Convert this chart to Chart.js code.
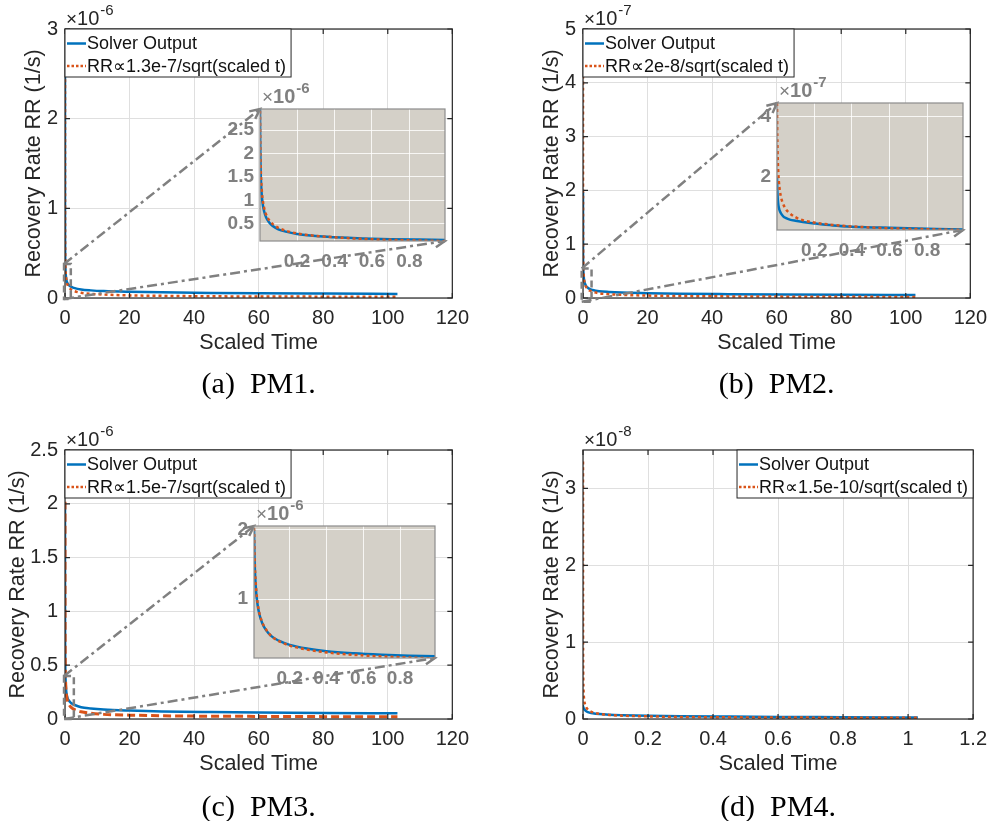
<!DOCTYPE html>
<html>
<head>
<meta charset="utf-8">
<script src="https://cdn.jsdelivr.net/npm/chart.js@4.4.1/dist/chart.umd.min.js"></script>
<style>
  body { margin: 0; background: #fff; width: 995px; height: 827px; position: relative; overflow: hidden; }
  canvas { position: absolute; }
</style>
</head>
<body>
<canvas id="mainA" width="477" height="400" style="left:0px;top:0px"></canvas>
<canvas id="mainB" width="477" height="400" style="left:518px;top:0px"></canvas>
<canvas id="mainC" width="477" height="400" style="left:0px;top:421px"></canvas>
<canvas id="mainD" width="477" height="400" style="left:518px;top:421px"></canvas>
<canvas id="insetA"></canvas>
<canvas id="insetB"></canvas>
<canvas id="insetC"></canvas>
<script>
// ---- data (values in units of the axis exponent) ----
const tABC = [0.002, 0.003, 0.005, 0.008, 0.012, 0.018, 0.025, 0.035, 0.05, 0.07, 0.1, 0.14, 0.2, 0.3, 0.4, 0.55, 0.7, 0.85, 1, 1.5, 2, 3, 5, 8, 12, 20, 30, 45, 60, 80, 103];
const solverA = [2.95, 2.3, 1.72, 1.33, 1.08, 0.88, 0.75, 0.63, 0.53, 0.45, 0.38, 0.33, 0.28, 0.235, 0.21, 0.185, 0.17, 0.16, 0.152, 0.135, 0.124, 0.11, 0.095, 0.085, 0.077, 0.069, 0.063, 0.057, 0.053, 0.049, 0.045];
const fitA = [2.91, 2.37, 1.84, 1.45, 1.19, 0.97, 0.82, 0.69, 0.58, 0.49, 0.41, 0.35, 0.29, 0.24, 0.21, 0.175, 0.155, 0.141, 0.13, 0.106, 0.092, 0.075, 0.058, 0.046, 0.038, 0.029, 0.024, 0.019, 0.017, 0.015, 0.013];

const solverB = [1.97, 1.7, 1.35, 1.1, 0.95, 0.82, 0.74, 0.66, 0.6, 0.55, 0.51, 0.47, 0.42, 0.35, 0.31, 0.28, 0.255, 0.235, 0.22, 0.19, 0.17, 0.15, 0.127, 0.112, 0.1, 0.09, 0.08, 0.072, 0.066, 0.06, 0.056];
const fitB = [4.47, 3.65, 2.83, 2.24, 1.83, 1.49, 1.26, 1.07, 0.89, 0.76, 0.63, 0.53, 0.45, 0.37, 0.32, 0.27, 0.24, 0.22, 0.2, 0.163, 0.141, 0.115, 0.089, 0.071, 0.058, 0.045, 0.037, 0.03, 0.026, 0.022, 0.02];

const tC = [0.0055, 0.008, 0.012, 0.018, 0.025, 0.035, 0.05, 0.07, 0.1, 0.14, 0.2, 0.3, 0.4, 0.55, 0.7, 0.85, 1, 1.5, 2, 3, 5, 8, 12, 20, 30, 45, 60, 80, 103];
const solverC = [2.0, 1.62, 1.32, 1.08, 0.92, 0.78, 0.66, 0.56, 0.47, 0.405, 0.345, 0.29, 0.255, 0.225, 0.205, 0.19, 0.18, 0.16, 0.146, 0.13, 0.11, 0.098, 0.088, 0.078, 0.07, 0.064, 0.06, 0.056, 0.053];
const fitC = [2.02, 1.68, 1.37, 1.12, 0.95, 0.8, 0.67, 0.57, 0.47, 0.4, 0.335, 0.274, 0.237, 0.202, 0.179, 0.163, 0.15, 0.122, 0.106, 0.087, 0.067, 0.053, 0.043, 0.036, 0.03, 0.026, 0.024, 0.022, 0.02];

const tD = [0.00002, 0.00003, 0.00005, 0.0001, 0.0002, 0.0005, 0.001, 0.002, 0.004, 0.007, 0.01, 0.015, 0.02, 0.03, 0.05, 0.08, 0.12, 0.2, 0.3, 0.45, 0.6, 0.8, 1.03];
const solverD = [0.17, 0.17, 0.169, 0.168, 0.166, 0.16, 0.152, 0.142, 0.128, 0.113, 0.102, 0.09, 0.083, 0.074, 0.064, 0.056, 0.05, 0.042, 0.036, 0.031, 0.027, 0.024, 0.02];
const fitD = [3.35, 2.74, 2.12, 1.5, 1.06, 0.67, 0.474, 0.335, 0.237, 0.179, 0.15, 0.122, 0.106, 0.087, 0.067, 0.053, 0.043, 0.034, 0.027, 0.022, 0.019, 0.017, 0.015];

// ---- tick labels ----
const xTicksMain = [0, 20, 40, 60, 80, 100, 120];
const xTicksD = [0, 0.2, 0.4, 0.6, 0.8, 1, 1.2];
const yTicksA = [0, 1, 2, 3];
const yTicksB = [0, 1, 2, 3, 4, 5];
const yTicksC = [0, 0.5, 1, 1.5, 2, 2.5];
const yTicksD = [0, 1, 2, 3];
const xTicksInset = [0.2, 0.4, 0.6, 0.8];
const yTicksInsetA = [0.5, 1, 1.5, 2, 2.5];
const yTicksInsetB = [2, 4];
const yTicksInsetC = [1, 2];

const labelSolver = 'Solver Output';
const fitLabels = ['RR\u221d1.3e-7/sqrt(scaled t)', 'RR\u221d2e-8/sqrt(scaled t)', 'RR\u221d1.5e-7/sqrt(scaled t)', 'RR\u221d1.5e-10/sqrt(scaled t)'];
const captions = ['(a)  PM1.', '(b)  PM2.', '(c)  PM3.', '(d)  PM4.'];

const BLUE = '#0072BD';
const ORANGE = '#D95319';
const TXT = '#262626';
const GRID = '#dfdfdf';
const GRAY = '#808080';
const FONT = '"Liberation Sans", Arial, sans-serif';

Chart.defaults.font.family = FONT;

function fmt(v) {
    return String(parseFloat(Number(v).toFixed(3)));
}

function pts(xs, ys) {
    return xs.map((x, i) => ({ x: x, y: ys[i] }));
}

function makeDatasets(xs, solver, fit, fitDash) {
    return [{
        label: labelSolver,
        data: pts(xs, solver),
        borderColor: BLUE,
        borderWidth: 2.5,
        pointRadius: 0,
        cubicInterpolationMode: 'monotone',
        order: 2
    }, {
        label: 'fit',
        data: pts(xs, fit),
        borderColor: ORANGE,
        borderWidth: fitDash ? 3 : 2.5,
        borderDash: fitDash || [3, 3],
        borderCapStyle: 'butt',
        pointRadius: 0,
        cubicInterpolationMode: 'monotone',
        order: 1
    }];
}

function drawExp(ctx, x, y, exp, color, bold) {
    ctx.save();
    ctx.fillStyle = color;
    ctx.textAlign = 'left';
    ctx.textBaseline = 'alphabetic';
    ctx.font = '19px ' + FONT;
    ctx.fillText('\u00d7', x, y);
    let w = ctx.measureText('\u00d7').width;
    ctx.font = (bold ? 'bold ' : '') + '20px ' + FONT;
    ctx.fillText('10', x + w, y);
    w += ctx.measureText('10').width;
    ctx.font = (bold ? 'bold ' : '') + '15px ' + FONT;
    ctx.fillText('-' + exp, x + w + 1, y - 10);
    ctx.restore();
}

function arrow(ctx, x0, y0, x1, y1) {
    ctx.setLineDash([10, 4, 3, 4]);
    ctx.beginPath();
    ctx.moveTo(x0, y0);
    ctx.lineTo(x1, y1);
    ctx.stroke();
    const ang = Math.atan2(y1 - y0, x1 - x0);
    ctx.setLineDash([]);
    ctx.beginPath();
    ctx.moveTo(x1 - 11 * Math.cos(ang - 0.45), y1 - 11 * Math.sin(ang - 0.45));
    ctx.lineTo(x1, y1);
    ctx.lineTo(x1 - 11 * Math.cos(ang + 0.45), y1 - 11 * Math.sin(ang + 0.45));
    ctx.stroke();
}

// ---- insets ----
function makeInset(id, box, xs, solver, fit, xRange, yRange, yTicks, exp) {
    const cv = document.getElementById(id);
    const L = 48, Tp = 38, R = 8, B = 36;
    cv.width = box[2] + L + R;
    cv.height = box[3] + Tp + B;
    cv.style.left = (box[0] - L) + 'px';
    cv.style.top = (box[1] - Tp) + 'px';
    const tickFont = { size: 19, weight: 'bold' };
    return new Chart(cv, {
        type: 'line',
        data: { datasets: makeDatasets(xs, solver, fit) },
        options: {
            responsive: false, animation: false, devicePixelRatio: 1,
            layout: { padding: { left: 0, top: Tp, right: R, bottom: 0 } },
            plugins: { legend: { display: false }, tooltip: { enabled: false } },
            scales: {
                x: {
                    type: 'linear', min: xRange[0], max: xRange[1],
                    afterBuildTicks: s => { s.ticks = xTicksInset.map(v => ({ value: v })); },
                    afterFit: s => { s.height = B; },
                    grid: { color: 'rgba(255,255,255,0.8)', drawTicks: false },
                    border: { display: false },
                    ticks: { padding: 9, color: GRAY, font: tickFont, maxRotation: 0, autoSkip: false, callback: fmt }
                },
                y: {
                    type: 'linear', min: yRange[0], max: yRange[1],
                    afterBuildTicks: s => { s.ticks = yTicks.map(v => ({ value: v })); },
                    afterFit: s => { s.width = L; },
                    grid: { color: 'rgba(255,255,255,0.8)', drawTicks: false },
                    border: { display: false },
                    ticks: { padding: 6, color: GRAY, font: tickFont, autoSkip: false, callback: fmt }
                }
            }
        },
        plugins: [{
            id: 'insetFrame',
            beforeDraw(chart) {
                const a = chart.chartArea, ctx = chart.ctx;
                ctx.save();
                ctx.fillStyle = '#d4d0c8';
                ctx.fillRect(a.left, a.top, a.right - a.left, a.bottom - a.top);
                ctx.restore();
            },
            afterDraw(chart) {
                const a = chart.chartArea, ctx = chart.ctx;
                ctx.save();
                ctx.strokeStyle = '#8c8c8c';
                ctx.lineWidth = 1.2;
                ctx.strokeRect(a.left, a.top, a.right - a.left, a.bottom - a.top);
                ctx.restore();
                drawExp(ctx, a.left + 2, a.top - 6, exp, GRAY, true);
            }
        }]
    });
}

const insetA = makeInset('insetA', [260, 109, 185, 132], tABC, solverA, fitA, [0.002, 0.99], [0.13, 2.95], yTicksInsetA, '6');
const insetB = makeInset('insetB', [777, 103, 186, 127], tABC, solverB, fitB, [0.002, 0.99], [0.2, 4.47], yTicksInsetB, '7');
const insetC = makeInset('insetC', [254, 526, 181, 132], tC, solverC, fitC, [0.0055, 0.99], [0.157, 2.05], yTicksInsetC, '6');

// ---- main panels ----
function makeMain(id, p) {
    const cv = document.getElementById(id);
    return new Chart(cv, {
        type: 'line',
        data: { datasets: makeDatasets(p.xs, p.solver, p.fit, p.fitDash) },
        options: {
            responsive: false, animation: false, devicePixelRatio: 1,
            layout: { padding: { left: 0, top: 29, right: 18, bottom: 0 } },
            plugins: { legend: { display: false }, tooltip: { enabled: false } },
            scales: {
                x: {
                    type: 'linear', min: 0, max: p.xTicks[p.xTicks.length - 1],
                    afterBuildTicks: s => { s.ticks = p.xTicks.map(v => ({ value: v })); },
                    afterFit: s => { s.height = 102; },
                    grid: { color: GRID, drawTicks: false },
                    border: { display: false },
                    ticks: { padding: 8, color: TXT, font: { size: 20 }, maxRotation: 0, autoSkip: false, callback: fmt },
                    title: { display: true, text: 'Scaled Time', color: TXT, font: { size: 21.5 }, padding: { top: 0, bottom: 44 } }
                },
                y: {
                    type: 'linear', min: 0, max: p.yMax,
                    afterBuildTicks: s => { s.ticks = p.yTicks.map(v => ({ value: v })); },
                    afterFit: s => { s.width = 65; },
                    grid: { color: GRID, drawTicks: false },
                    border: { display: false },
                    ticks: { padding: 7, color: TXT, font: { size: 20 }, autoSkip: false, callback: fmt },
                    title: { display: true, text: 'Recovery Rate RR (1/s)', color: TXT, font: { size: 21.5 }, padding: { top: p.yTitlePad, bottom: 0 } }
                }
            }
        },
        plugins: [{
            id: 'mainFrame',
            afterDraw(chart) {
                const ctx = chart.ctx, a = chart.chartArea;
                const xs = chart.scales.x, ys = chart.scales.y;
                ctx.save();
                // box and inward ticks
                ctx.strokeStyle = TXT;
                ctx.lineWidth = 1.2;
                ctx.strokeRect(a.left, a.top, a.right - a.left, a.bottom - a.top);
                ctx.beginPath();
                p.xTicks.forEach(v => {
                    const px = xs.getPixelForValue(v);
                    ctx.moveTo(px, a.bottom); ctx.lineTo(px, a.bottom - 5);
                    ctx.moveTo(px, a.top); ctx.lineTo(px, a.top + 5);
                });
                p.yTicks.forEach(v => {
                    const py = ys.getPixelForValue(v);
                    ctx.moveTo(a.left, py); ctx.lineTo(a.left + 5, py);
                    ctx.moveTo(a.right, py); ctx.lineTo(a.right - 5, py);
                });
                ctx.stroke();
                ctx.restore();

                drawExp(ctx, a.left + 1, a.top - 4, p.exp, TXT, false);

                // zoom box + arrows to the inset
                if (p.inset) {
                    const z = p.zoomBox;
                    const zl = xs.getPixelForValue(z[0]), zr = xs.getPixelForValue(z[1]);
                    const zb = ys.getPixelForValue(z[2]), zt = ys.getPixelForValue(z[3]);
                    const r0 = chart.canvas.getBoundingClientRect();
                    const r1 = p.inset.canvas.getBoundingClientRect();
                    const ia = p.inset.chartArea;
                    const dx = r1.left - r0.left, dy = r1.top - r0.top;
                    ctx.save();
                    ctx.strokeStyle = GRAY;
                    ctx.lineWidth = 2.5;
                    ctx.setLineDash([7, 4]);
                    ctx.strokeRect(zl, zt, zr - zl, zb - zt);
                    arrow(ctx, zl, zt, ia.left + dx, ia.top + dy);
                    arrow(ctx, zl, zb, ia.right + dx, ia.bottom + dy);
                    ctx.restore();
                }

                // legend
                ctx.save();
                ctx.font = '18px ' + FONT;
                const labels = [labelSolver, p.fitLabel];
                const tw = Math.max(...labels.map(s => ctx.measureText(s).width));
                const bw = 22 + tw + 5, bh = 48;
                const bx = p.legendRight ? a.right - bw : a.left;
                const by = a.top;
                ctx.fillStyle = '#fff';
                ctx.fillRect(bx, by, bw, bh);
                ctx.strokeStyle = TXT;
                ctx.lineWidth = 1;
                ctx.strokeRect(bx, by, bw, bh);
                const rows = [by + 14.5, by + 37];
                ctx.lineWidth = 2.5;
                ctx.strokeStyle = BLUE;
                ctx.beginPath(); ctx.moveTo(bx + 2, rows[0]); ctx.lineTo(bx + 21, rows[0]); ctx.stroke();
                ctx.strokeStyle = ORANGE;
                ctx.setLineDash([2.5, 2]);
                ctx.beginPath(); ctx.moveTo(bx + 2, rows[1]); ctx.lineTo(bx + 21, rows[1]); ctx.stroke();
                ctx.setLineDash([]);
                ctx.fillStyle = '#111';
                ctx.textAlign = 'left';
                ctx.textBaseline = 'middle';
                ctx.fillText(labels[0], bx + 22, rows[0] + 1);
                ctx.fillText(labels[1], bx + 22, rows[1] + 1);
                ctx.restore();

                // caption
                ctx.save();
                ctx.font = '30px "Liberation Serif", serif';
                ctx.fillStyle = '#000';
                ctx.textAlign = 'center';
                ctx.textBaseline = 'alphabetic';
                ctx.fillText(p.caption, (a.left + a.right) / 2, p.captionY);
                ctx.restore();
            }
        }]
    });
}

makeMain('mainA', {
    xs: tABC, solver: solverA, fit: fitA, xTicks: xTicksMain, yTicks: yTicksA, yMax: 3,
    exp: '6', yTitlePad: 21, fitLabel: fitLabels[0], caption: captions[0], captionY: 393,
    inset: insetA, zoomBox: [-0.3, 1.8, -0.01, 0.38]
});
makeMain('mainB', {
    xs: tABC, solver: solverB, fit: fitB, xTicks: xTicksMain, yTicks: yTicksB, yMax: 5,
    exp: '7', yTitlePad: 21, fitLabel: fitLabels[1], caption: captions[1], captionY: 393,
    inset: insetB, zoomBox: [-0.4, 2.65, -0.07, 0.55]
});
makeMain('mainC', {
    xs: tC, solver: solverC, fit: fitC, fitDash: [8, 4], xTicks: xTicksMain, yTicks: yTicksC, yMax: 2.5,
    exp: '6', yTitlePad: 5, fitLabel: fitLabels[2], caption: captions[2], captionY: 395,
    inset: insetC, zoomBox: [-0.3, 2.74, 0, 0.4]
});
makeMain('mainD', {
    xs: tD, solver: solverD, fit: fitD, xTicks: xTicksD, yTicks: yTicksD, yMax: 3.5,
    exp: '8', yTitlePad: 21, fitLabel: fitLabels[3], caption: captions[3], captionY: 395,
    legendRight: true
});
</script>
</body>
</html>
